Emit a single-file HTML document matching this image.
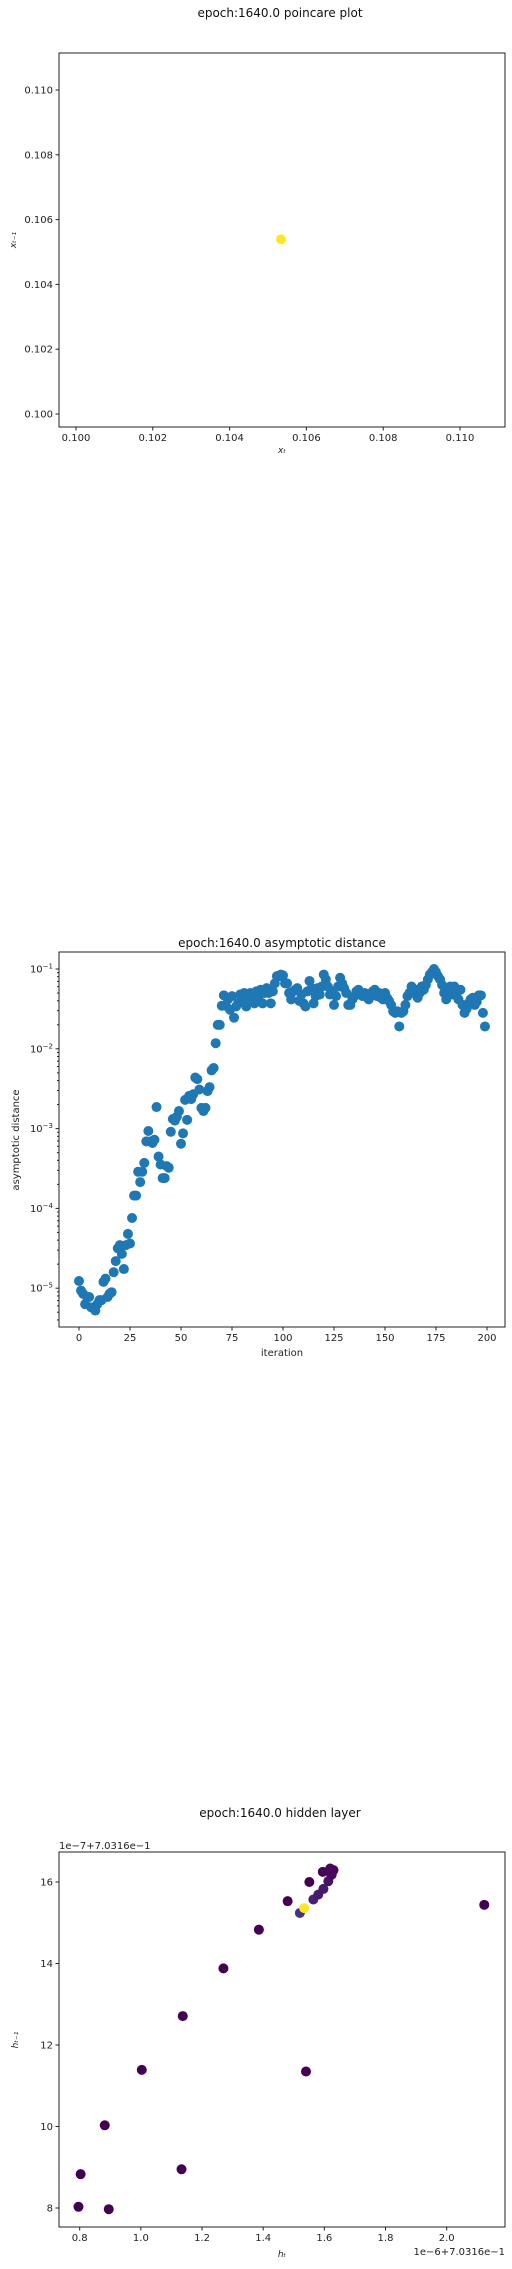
<!DOCTYPE html>
<html><head><meta charset="utf-8">
<style>
html,body{margin:0;padding:0;background:#fff;}
svg{display:block;font-family:"DejaVu Sans","Liberation Sans",sans-serif;}
</style></head>
<body>
<svg id="fig" width="512" height="2269" viewBox="0 0 512 2269" xmlns="http://www.w3.org/2000/svg"></svg>
<script>
// ---- Chart 1: poincare plot ----
const poincareX = [0.10534];
const poincareY = [0.10539];
const poincareTicks = [0.100, 0.102, 0.104, 0.106, 0.108, 0.110];
const poincareTickLabels = ["0.100","0.102","0.104","0.106","0.108","0.110"];

// ---- Chart 2: asymptotic distance (log10 values) ----
const asymLog = [
-4.91,-5.03,-5.07,-5.2,-5.11,-5.11,-5.24,-5.24,-5.28,-5.2,
-5.15,-5.15,-4.92,-4.88,-5.11,-5.07,-5.05,-4.8,-4.66,-4.5,
-4.46,-4.57,-4.76,-4.46,-4.32,-4.44,-4.12,-3.84,-3.84,-3.54,
-3.67,-3.54,-3.43,-3.16,-3.03,-3.16,-3.18,-3.14,-2.73,-3.35,
-3.45,-3.62,-3.62,-3.47,-3.49,-3.04,-2.88,-2.9,-2.85,-2.78,
-3.19,-3.06,-2.64,-2.89,-2.59,-2.63,-2.57,-2.36,-2.38,-2.51,
-2.74,-2.78,-2.74,-2.53,-2.48,-2.27,-2.24,-1.93,-1.7,-1.7,
-1.46,-1.33,-1.46,-1.38,-1.51,-1.34,-1.61,-1.47,-1.43,-1.32,
-1.38,-1.3,-1.47,-1.36,-1.3,-1.34,-1.43,-1.28,-1.38,-1.26,
-1.43,-1.3,-1.24,-1.3,-1.43,-1.28,-1.18,-1.09,-1.09,-1.07,
-1.08,-1.18,-1.18,-1.3,-1.38,-1.28,-1.26,-1.24,-1.4,-1.32,
-1.43,-1.47,-1.28,-1.15,-1.24,-1.43,-1.34,-1.24,-1.32,-1.22,
-1.07,-1.13,-1.22,-1.32,-1.28,-1.45,-1.34,-1.22,-1.11,-1.18,
-1.24,-1.3,-1.45,-1.45,-1.38,-1.34,-1.28,-1.26,-1.32,-1.34,
-1.3,-1.34,-1.38,-1.33,-1.28,-1.26,-1.34,-1.3,-1.36,-1.38,
-1.3,-1.36,-1.4,-1.45,-1.53,-1.55,-1.53,-1.72,-1.55,-1.53,
-1.45,-1.34,-1.3,-1.22,-1.3,-1.26,-1.36,-1.3,-1.22,-1.26,
-1.2,-1.13,-1.07,-1.04,-1.0,-1.04,-1.09,-1.13,-1.2,-1.3,
-1.38,-1.26,-1.22,-1.32,-1.22,-1.3,-1.38,-1.26,-1.45,-1.55,
-1.5,-1.43,-1.38,-1.36,-1.45,-1.41,-1.33,-1.33,-1.55,-1.72];
const asymXTicks = [0,25,50,75,100,125,150,175,200];
const asymYTicks = [-5,-4,-3,-2,-1];

// ---- Chart 3: hidden layer ----
const hidX = [0.796,0.803,0.895,0.882,1.003,1.133,1.137,1.27,1.386,1.48,1.54,1.551,2.123,1.52,1.564,1.58,1.597,1.613,1.624,1.595,1.619,1.63,1.622,1.534];
const hidY = [8.03,8.83,7.97,10.03,11.39,8.95,12.71,13.88,14.83,15.53,11.35,16.0,15.44,15.24,15.57,15.69,15.83,16.02,16.18,16.25,16.33,16.29,16.2,15.36];
const hidColors = ["#440154","#440154","#440154","#440154","#440154","#440154","#440154","#440154","#440154","#440154","#440154","#440154","#440154","#46327e","#482173","#481a6c","#48186a","#471365","#450559","#450457","#46085c","#46085c","#450a5c","#fde725"];
const hidXTicks = [0.8,1.0,1.2,1.4,1.6,1.8,2.0];
const hidXLabels = ["0.8","1.0","1.2","1.4","1.6","1.8","2.0"];
const hidYTicks = [8,10,12,14,16];

const NS = "http://www.w3.org/2000/svg";
const svg = document.getElementById('fig');
function mk(tag, attrs, parent, text){
  const e = document.createElementNS(NS, tag);
  for (const k in attrs) e.setAttribute(k, attrs[k]);
  if (text !== undefined) e.textContent = text;
  (parent||svg).appendChild(e);
  return e;
}
function frame(g,L,T,R,B){
  const r = mk('rect',{x:L,y:T,width:R-L,height:B-T,fill:'none',stroke:'#222','stroke-width':1},g);
  
  
}
function xtick(g,x,B,label){
  const l = mk('line',{x1:x,y1:B,x2:x,y2:B+3.5,stroke:'#222'},g);
  
  
  const t = mk('text',{x:x,y:B+14,'font-size':10,'text-anchor':'middle',fill:'#222'},g,label);
  
  
}
function ytick(g,y,L,label,len){
  const l = mk('line',{x1:L-(len||3.5),y1:y,x2:L,y2:y,stroke:'#222'},g);
  
  
  if (label!==null){
    const t = mk('text',{x:L-6,y:y+3.5,'font-size':10,'text-anchor':'end',fill:'#222'},g,label);
    
    
  }
}

// Chart 1
(function(){
  const g = mk('g',{});  
  const L=59,R=505,T=53,B=427;
  const sx = v => 76 + (v-0.100)*38400;
  const sy = v => 414 - (v-0.100)*32400;
  const title = mk('text',{x:280,y:17,'font-size':12,'text-anchor':'middle',fill:'#111'},g,'epoch:1640.0 poincare plot');
   
  frame(g,L,T,R,B);
  poincareTicks.forEach((v,i)=>{ xtick(g,sx(v),B,poincareTickLabels[i]); ytick(g,sy(v),L,poincareTickLabels[i]); });
  const xl = mk('text',{x:282,y:453,'font-size':9,'text-anchor':'middle','font-style':'italic',fill:'#222'},g,'xₜ');
   
  const yl = mk('text',{x:16,y:240,'font-size':9,'text-anchor':'middle','font-style':'italic',fill:'#222',transform:'rotate(-90 16 240)'},g,'xₜ₋₁');
   
  poincareX.forEach((v,i)=>{
    const c = mk('circle',{cx:sx(v),cy:sy(poincareY[i]),r:5,fill:'#fde725'},g);
     
  });
})();

// Chart 2
(function(){
  const g = mk('g',{});  
  const L=59,R=505,T=952,B=1327;
  const sx = v => 79 + v*2.04;
  const sy = lv => 969 - (lv+1)*79.8;
  const title = mk('text',{x:282,y:947,'font-size':12,'text-anchor':'middle',fill:'#111'},g,'epoch:1640.0 asymptotic distance');
   
  frame(g,L,T,R,B);
  asymXTicks.forEach(v=>xtick(g,sx(v),B,String(v)));
  asymYTicks.forEach(v=>{
    ytick(g,sy(v),L,null);
    const t = mk('text',{x:L-6,y:sy(v)+3.5,'font-size':10,'text-anchor':'end',fill:'#222'},g);
     
    const a = mk('tspan',{},t,'10'); const b = mk('tspan',{dy:-4,'font-size':7},t,'−'+(-v));
    for (let m=2;m<=9;m++){
      const yy = sy(v+Math.log10(m)); 
      if (yy>T && yy<B) ytick(g,yy,L,null,2);
    }
  });
  for (let m=4;m<=9;m++){ const yy=sy(-6+Math.log10(m)); if(yy>T&&yy<B) ytick(g,yy,L,null,2); }
  const xl = mk('text',{x:282,y:1356,'font-size':10,'text-anchor':'middle',fill:'#222'},g,'iteration');
   
  const yl = mk('text',{x:19,y:1140,'font-size':10,'text-anchor':'middle',fill:'#222',transform:'rotate(-90 19 1140)'},g,'asymptotic distance');
   
  asymLog.forEach((v,i)=>{
    const c = mk('circle',{cx:sx(i),cy:sy(v),r:5,fill:'#1f77b4'},g);
     
  });
})();

// Chart 3
(function(){
  const g = mk('g',{});  
  const L=59,R=505,T=1852,B=2227;
  const sx = v => 79.7 + (v-0.8)*305.8;
  const sy = v => 1882 - (v-16)*40.75;
  const title = mk('text',{x:280,y:1817,'font-size':12,'text-anchor':'middle',fill:'#111'},g,'epoch:1640.0 hidden layer');
   
  frame(g,L,T,R,B);
  hidXTicks.forEach((v,i)=>xtick(g,sx(v),B,hidXLabels[i]));
  hidYTicks.forEach(v=>ytick(g,sy(v),L,String(v)));
  const o1 = mk('text',{x:59,y:1849,'font-size':10,fill:'#222'},g,'1e−7+7.0316e−1');
   
  const o2 = mk('text',{x:505,y:2255,'font-size':10,'text-anchor':'end',fill:'#222'},g,'1e−6+7.0316e−1');
   
  const xl = mk('text',{x:282,y:2257,'font-size':9,'text-anchor':'middle','font-style':'italic',fill:'#222'},g,'hₜ');
   
  const yl = mk('text',{x:18,y:2040,'font-size':9,'text-anchor':'middle','font-style':'italic',fill:'#222',transform:'rotate(-90 18 2040)'},g,'hₜ₋₁');
   
  hidX.forEach((v,i)=>{
    const c = mk('circle',{cx:sx(v),cy:sy(hidY[i]),r:5,fill:hidColors[i]},g);
     
  });
})();
</script>
</body></html>
